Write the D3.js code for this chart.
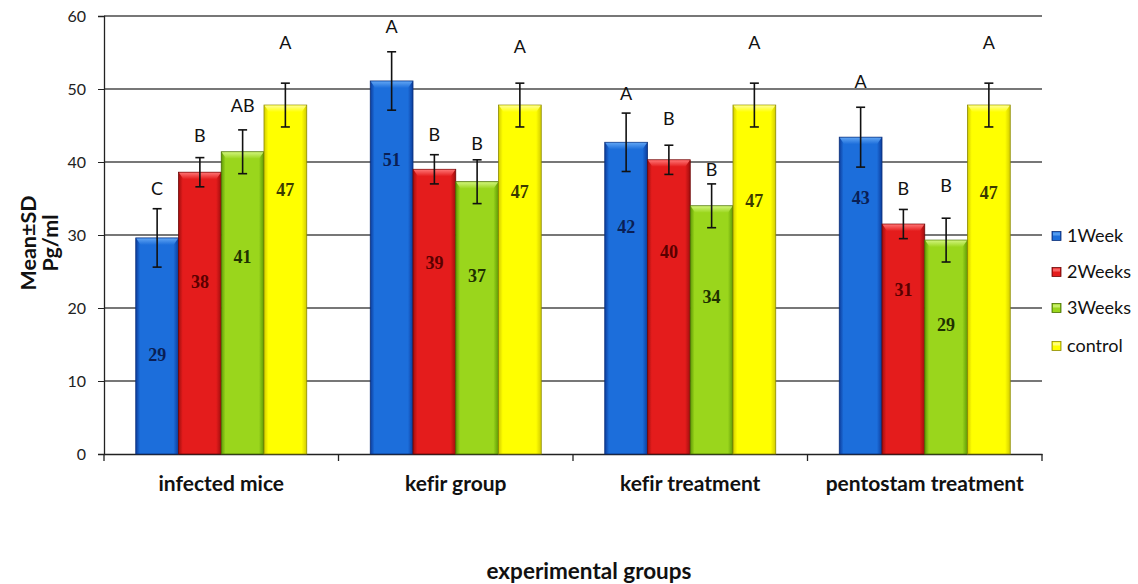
<!DOCTYPE html>
<html>
<head>
<meta charset="utf-8">
<script src="https://cdn.jsdelivr.net/npm/d3@7/dist/d3.min.js"></script>
<style>
  html, body { margin: 0; padding: 0; background: #fff; }
  svg { display: block; }
  text { font-variant-ligatures: none; font-feature-settings: "liga" 0; }
</style>
</head>
<body>
<svg id="chart" width="1138" height="584"></svg>
<script>
// ---------- DATA ----------
const categories = ["infected mice", "kefir group", "kefir treatment", "pentostam treatment"];
const seriesNames = ["1Week", "2Weeks", "3Weeks", "control"];

const week1   = [29.6, 51.1, 42.7, 43.4];
const week2   = [38.6, 39.0, 40.3, 31.5];
const week3   = [41.4, 37.3, 34.0, 29.3];
const control = [47.8, 47.8, 47.8, 47.8];

const sdWeek1   = [4.0, 4.0, 4.0, 4.1];
const sdWeek2   = [2.0, 2.0, 2.0, 2.0];
const sdWeek3   = [3.0, 3.0, 3.0, 3.0];
const sdControl = [3.0, 3.0, 3.0, 3.0];

const valueLabelsWeek1   = ["29", "51", "42", "43"];
const valueLabelsWeek2   = ["38", "39", "40", "31"];
const valueLabelsWeek3   = ["41", "37", "34", "29"];
const valueLabelsControl = ["47", "47", "47", "47"];

const lettersWeek1   = ["C", "A", "A", "A"];
const lettersWeek2   = ["B", "B", "B", "B"];
const lettersWeek3   = ["AB", "B", "B", "B"];
const lettersControl = ["A", "A", "A", "A"];

const yTickValues = [0, 10, 20, 30, 40, 50, 60];

// ---------- ANNOTATION ANCHORS (in data units) ----------
const letterAtWeek1   = [36.4, 58.5, 49.3, 51.0];
const letterAtWeek2   = [43.6, 43.7, 45.9, 36.4];
const letterAtWeek3   = [47.7, 42.5, 38.9, 36.7];
const letterAtControl = [56.4, 55.8, 56.4, 56.4];
const labelAtWeek1    = [13.6, 40.3, 31.1, 35.1];
const labelAtWeek2    = [23.6, 26.2, 27.7, 22.5];
const labelAtWeek3    = [27.0, 24.4, 21.5, 17.7];
const labelAtControl  = [36.2, 36.0, 34.7, 35.8];

// ---------- BUILD TABLE ----------
const seriesTable = [
  { name: seriesNames[0], values: week1,   sd: sdWeek1,   labels: valueLabelsWeek1,   letters: lettersWeek1,   letterAt: letterAtWeek1,   labelAt: labelAtWeek1 },
  { name: seriesNames[1], values: week2,   sd: sdWeek2,   labels: valueLabelsWeek2,   letters: lettersWeek2,   letterAt: letterAtWeek2,   labelAt: labelAtWeek2 },
  { name: seriesNames[2], values: week3,   sd: sdWeek3,   labels: valueLabelsWeek3,   letters: lettersWeek3,   letterAt: letterAtWeek3,   labelAt: labelAtWeek3 },
  { name: seriesNames[3], values: control, sd: sdControl, labels: valueLabelsControl, letters: lettersControl, letterAt: letterAtControl, labelAt: labelAtControl }
];
const rows = [];
seriesTable.forEach(s => {
  categories.forEach((c, i) => {
    rows.push({ cat: c, series: s.name, value: s.values[i], sd: s.sd[i], label: s.labels[i],
                letter: s.letters[i], letterAt: s.letterAt[i], labelAt: s.labelAt[i] });
  });
});

// ---------- STYLE ----------
const palette = {
  "1Week":  { base: "#1c6edb", dark: "#0c3c9c", light: "#62a6f4", border: "#0a2e78", text: "#0a1f55" },
  "2Weeks": { base: "#e41c1c", dark: "#a00d0d", light: "#ff7676", border: "#6e0808", text: "#5a0000" },
  "3Weeks": { base: "#9ad61c", dark: "#5f9a05", light: "#d2f47e", border: "#4a7000", text: "#1e3000" },
  "control":{ base: "#ffff00", dark: "#d2cc00", light: "#ffff9a", border: "#8c8a00", text: "#3a3a00" }
};
const sans = "Lato, 'Open Sans', 'DejaVu Sans', sans-serif";

const svg = d3.select("#chart");
const defs = svg.append("defs");
seriesNames.forEach((n, i) => {
  const p = palette[n];
  const g = defs.append("linearGradient").attr("id", "grad" + i)
    .attr("x1", "0%").attr("x2", "100%").attr("y1", "0%").attr("y2", "0%");
  g.append("stop").attr("offset", "0%").attr("stop-color", p.dark);
  g.append("stop").attr("offset", "10%").attr("stop-color", p.base);
  g.append("stop").attr("offset", "45%").attr("stop-color", p.base);
  g.append("stop").attr("offset", "88%").attr("stop-color", p.base);
  g.append("stop").attr("offset", "100%").attr("stop-color", p.dark);
  const t = defs.append("linearGradient").attr("id", "cap" + i)
    .attr("x1", "0%").attr("x2", "0%").attr("y1", "0%").attr("y2", "100%");
  t.append("stop").attr("offset", "0%").attr("stop-color", p.light);
  t.append("stop").attr("offset", "100%").attr("stop-color", p.base);
});

// ---------- SCALES ----------
const plotLeft = 104, plotRight = 1042, plotTop = 16, plotBottom = 454;
const y = d3.scaleLinear().domain([0, 60]).range([plotBottom, plotTop]);
const x0 = d3.scaleBand().domain(categories).range([plotLeft, plotRight]).paddingInner(0).paddingOuter(0);
const x1 = d3.scaleBand().domain(seriesNames).range([0, x0.bandwidth()]).paddingInner(0).paddingOuter(0.743);

// ---------- GRIDLINES ----------
svg.append("g")
  .selectAll("line").data(yTickValues.filter(v => v > 0)).join("line")
  .attr("x1", plotLeft).attr("x2", plotRight)
  .attr("y1", d => y(d)).attr("y2", d => y(d))
  .attr("stroke", "#4a4a4a").attr("stroke-width", 1.3);

// ---------- AXES ----------
const yAxis = svg.append("g").attr("transform", `translate(${plotLeft},0)`)
  .call(d3.axisLeft(y).tickValues(yTickValues).tickSize(6).tickPadding(12));
yAxis.select(".domain").attr("stroke", "#222").attr("stroke-width", 1.3);
yAxis.selectAll(".tick line").attr("stroke", "#222");
yAxis.selectAll(".tick text").attr("font-family", sans).attr("font-size", 16).attr("fill", "#222");

const xAxis = svg.append("g").attr("transform", `translate(0,${plotBottom})`)
  .call(d3.axisBottom(x0).tickSize(0).tickPadding(0).tickFormat(""));
xAxis.select(".domain").attr("stroke", "#222").attr("stroke-width", 1.3);
xAxis.selectAll(".tick").remove();
// category boundary ticks
const boundaries = categories.map(c => x0(c)).concat([x0(categories[categories.length - 1]) + x0.bandwidth()]);
svg.append("g").selectAll("line").data(boundaries).join("line")
  .attr("x1", d => d).attr("x2", d => d)
  .attr("y1", plotBottom).attr("y2", plotBottom + 7)
  .attr("stroke", "#222").attr("stroke-width", 1.3);

// category labels
svg.append("g").selectAll("text").data(categories).join("text")
  .attr("x", d => x0(d) + x0.bandwidth() / 2)
  .attr("y", 491)
  .attr("text-anchor", "middle")
  .attr("font-family", sans).attr("font-weight", "bold").attr("font-size", 21)
  .attr("fill", "#111")
  .text(d => d);

// ---------- BARS ----------
const barG = svg.append("g");
const bars = barG.selectAll("g.bar").data(rows).join("g").attr("class", "bar")
  .attr("transform", d => `translate(${x0(d.cat) + x1(d.series)},0)`);
const bw = x1.bandwidth();
bars.append("rect")
  .attr("x", 0).attr("width", bw)
  .attr("y", d => y(d.value)).attr("height", d => y(0) - y(d.value))
  .attr("fill", d => `url(#grad${seriesNames.indexOf(d.series)})`)
  .attr("stroke", d => palette[d.series].border).attr("stroke-width", 0.8);
// bevel top cap
bars.append("path")
  .attr("d", d => {
    const t = y(d.value), h = 7, inset = 5;
    return `M0.5,${t + 0.5} L${bw - 0.5},${t + 0.5} L${bw - inset},${t + h} L${inset},${t + h} Z`;
  })
  .attr("fill", d => `url(#cap${seriesNames.indexOf(d.series)})`)
  .attr("opacity", 0.95);

// ---------- ERROR BARS ----------
const eg = svg.append("g").attr("stroke", "#111").attr("stroke-width", 1.6);
rows.forEach(d => {
  const cx = x0(d.cat) + x1(d.series) + bw / 2;
  const top = y(d.value + d.sd), bot = y(d.value - d.sd);
  eg.append("line").attr("x1", cx).attr("x2", cx).attr("y1", top).attr("y2", bot);
  eg.append("line").attr("x1", cx - 4.5).attr("x2", cx + 4.5).attr("y1", top).attr("y2", top);
  eg.append("line").attr("x1", cx - 4.5).attr("x2", cx + 4.5).attr("y1", bot).attr("y2", bot);
});

// ---------- VALUE LABELS ----------
svg.append("g").selectAll("text").data(rows).join("text")
  .attr("x", d => x0(d.cat) + x1(d.series) + bw / 2)
  .attr("y", d => y(d.labelAt))
  .attr("dy", "0.35em")
  .attr("text-anchor", "middle")
  .attr("font-family", "'Liberation Serif', 'DejaVu Serif', serif")
  .attr("font-weight", "bold").attr("font-size", 18)
  .attr("fill", d => palette[d.series].text)
  .text(d => d.label);

// ---------- SIGNIFICANCE LETTERS ----------
svg.append("g").selectAll("text").data(rows).join("text")
  .attr("x", d => x0(d.cat) + x1(d.series) + bw / 2)
  .attr("y", d => y(d.letterAt))
  .attr("dy", "0.35em")
  .attr("text-anchor", "middle")
  .attr("font-family", sans).attr("font-size", 18)
  .attr("fill", "#111")
  .text(d => d.letter);

// ---------- AXIS TITLES ----------
svg.append("text")
  .attr("x", 589).attr("y", 579)
  .attr("text-anchor", "middle")
  .attr("font-family", sans).attr("font-weight", "bold").attr("font-size", 22.5)
  .attr("fill", "#111")
  .text("experimental groups");

const yt = svg.append("g").attr("transform", "translate(0,243) rotate(-90)")
  .attr("font-family", sans).attr("font-weight", "bold").attr("font-size", 21.5)
  .attr("fill", "#111").attr("text-anchor", "middle");
yt.append("text").attr("x", 0).attr("y", 36).text("Mean±SD");
yt.append("text").attr("x", 0).attr("y", 58).text("Pg/ml");

// ---------- LEGEND ----------
const legendY = [236, 272, 308, 346];
const lg = svg.append("g");
seriesNames.forEach((n, i) => {
  const p = palette[n];
  lg.append("rect").attr("x", 1052).attr("y", legendY[i] - 4.5).attr("width", 9).attr("height", 9)
    .attr("fill", `url(#grad${i})`).attr("stroke", p.border).attr("stroke-width", 0.8);
  lg.append("rect").attr("x", 1053).attr("y", legendY[i] - 3.5).attr("width", 7).attr("height", 3)
    .attr("fill", p.light).attr("opacity", 0.8);
  lg.append("text").attr("x", 1067).attr("y", legendY[i]).attr("dy", "0.35em")
    .attr("font-family", sans).attr("font-size", 18).attr("fill", "#111")
    .text(n);
});
</script>
</body>
</html>
